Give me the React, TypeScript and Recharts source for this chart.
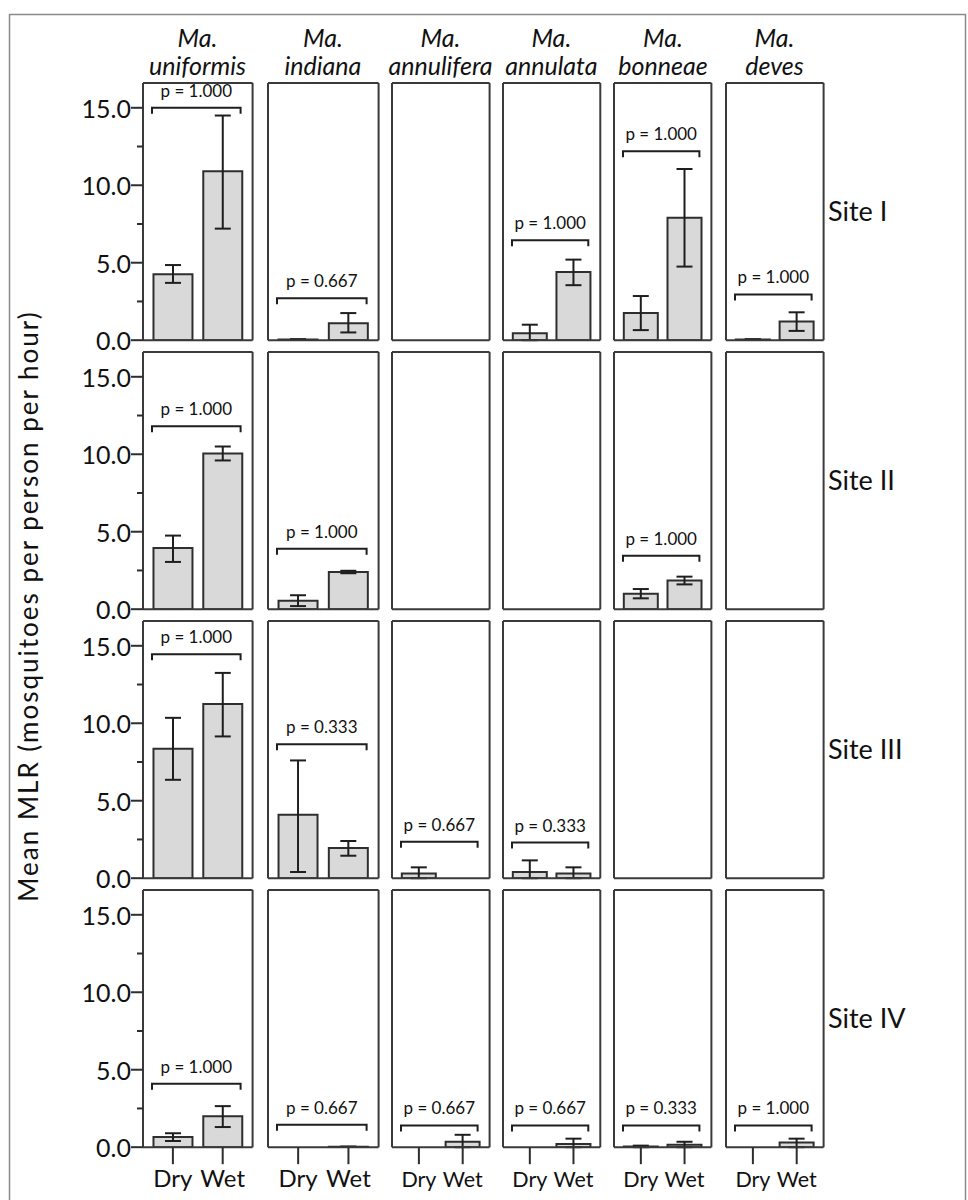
import React from 'react';
import { BarChart, Bar, XAxis, YAxis, ErrorBar, ReferenceLine } from 'recharts';

// ---------- data ----------
const speciesNames = ['uniformis', 'indiana', 'annulifera', 'annulata', 'bonneae', 'deves'];
const siteNames = ['Site I', 'Site II', 'Site III', 'Site IV'];
const seasons = ['Dry', 'Wet'];
const yTicks = [0, 2.5, 5, 7.5, 10, 12.5, 15];
const Y_MAX = 16.6;

// mean MLR [site][species]
const dryMean = [
  [4.25, 0.05, 0, 0.45, 1.75, 0.05],
  [3.95, 0.55, 0, 0, 1.0, 0],
  [8.35, 4.1, 0.3, 0.4, 0, 0],
  [0.65, 0, 0, 0, 0.05, 0],
];
const wetMean = [
  [10.9, 1.1, 0, 4.4, 7.9, 1.2],
  [10.05, 2.4, 0, 0, 1.85, 0],
  [11.25, 1.95, 0, 0.3, 0, 0],
  [2.0, 0.03, 0.35, 0.2, 0.15, 0.3],
];
// error extents [below, above]
const dryErr = [
  [[0.55, 0.6], [0, 0], [0, 0], [0.45, 0.55], [1.1, 1.1], [0, 0]],
  [[0.9, 0.8], [0.35, 0.35], [0, 0], [0, 0], [0.3, 0.3], [0, 0]],
  [[2.0, 2.0], [3.7, 3.5], [0.3, 0.4], [0.4, 0.75], [0, 0], [0, 0]],
  [[0.25, 0.25], [0, 0], [0, 0], [0, 0], [0.05, 0.05], [0, 0]],
];
const wetErr = [
  [[3.7, 3.6], [0.6, 0.65], [0, 0], [0.85, 0.8], [3.15, 3.15], [0.6, 0.6]],
  [[0.45, 0.45], [0.08, 0.08], [0, 0], [0, 0], [0.25, 0.25], [0, 0]],
  [[2.1, 2.0], [0.5, 0.45], [0, 0], [0.3, 0.4], [0, 0], [0, 0]],
  [[0.7, 0.65], [0, 0], [0.35, 0.45], [0.2, 0.35], [0.15, 0.2], [0.3, 0.25]],
];
// significance bracket heights and p-values
const bracketY = [
  [15.0, 2.7, null, 6.45, 12.2, 2.95],
  [11.8, 3.9, null, null, 3.45, null],
  [14.45, 8.65, 2.35, 2.3, null, null],
  [4.1, 1.45, 1.4, 1.4, 1.4, 1.4],
];
const pValues = [
  ['1.000', '0.667', null, '1.000', '1.000', '1.000'],
  ['1.000', '1.000', null, null, '1.000', null],
  ['1.000', '0.333', '0.667', '0.333', null, null],
  ['1.000', '0.667', '0.667', '0.667', '0.333', '1.000'],
];

// ---------- layout ----------
const FONT = "Lato, 'Open Sans', sans-serif";
const colX = [142.7, 267.7, 391.7, 502.7, 614.3, 725.7];
const colW = [109.6, 110.6, 97.6, 97.3, 97.4, 97.6];
const rowTop = [82.7, 352.0, 620.7, 890.0];
const rowH = 257.2;
const M = 22;
const YW = 66;
const XH = 50;
const INK = '#2e2e2e';
const BOX = '#3a3a3a';

const YTick = (props: any) => {
  const { x, y, payload } = props;
  const v = payload.value as number;
  const major = v % 5 === 0;
  return (
    <g>
      <line x1={x - (major ? 12 : 6)} x2={x} y1={y} y2={y} stroke={INK} strokeWidth={2} />
      {major && (
        <text x={x - 12} y={y} dy={10} textAnchor="end" fontSize={25} fontFamily={FONT} fill="#111">
          {v.toFixed(1)}
        </text>
      )}
    </g>
  );
};

const XTick = (props: any) => {
  const { x, y, payload, fs } = props;
  return (
    <g>
      <line x1={x} x2={x} y1={y} y2={y + 17} stroke={INK} strokeWidth={2} />
      <text x={x} y={y + 40} textAnchor="middle" fontSize={fs} fontFamily={FONT} fill="#111">
        {payload.value}
      </text>
    </g>
  );
};

const bracketShape = (p: string) => (props: any) => {
  const { x1, x2, y1 } = props;
  const l = Math.min(x1, x2) + 9;
  const r = Math.max(x1, x2) - 12;
  const cx = (l + r) / 2;
  return (
    <g>
      <path d={`M${l},${y1 + 6}V${y1}H${r}V${y1 + 6}`} fill="none" stroke="#1e1e1e" strokeWidth={2} />
      <text x={cx} y={y1 - 11} textAnchor="middle" fontSize={17} fontFamily={FONT} fill="#111">
        {`p = ${p}`}
      </text>
    </g>
  );
};

function Panel({ r, c }: { r: number; c: number }) {
  const data = seasons.map((s, i) => ({
    season: s,
    value: i === 0 ? dryMean[r][c] : wetMean[r][c],
    err: i === 0 ? dryErr[r][c] : wetErr[r][c],
  }));
  const first = c === 0;
  const last = r === 3;
  const leftW = first ? YW : 1;
  const bottomH = last ? XH : 1;
  const w = colW[c] + 2 * M + (first ? YW : 0);
  const h = rowH + 2 * M + (last ? XH : 0);
  const p = pValues[r][c];
  const b = bracketY[r][c];
  const axisLine = { stroke: BOX, strokeWidth: 2 };
  const margin = {
    top: M - 1,
    right: M - 1,
    bottom: M - (last ? 0 : 1),
    left: M - (first ? 0 : 1),
  };
  const xfs = c < 2 ? 24 : 21.5;
  return (
    <div style={{ position: 'absolute', left: colX[c] - M - (first ? YW : 0), top: rowTop[r] - M }}>
      <BarChart width={w} height={h} data={data} margin={margin} barCategoryGap="11%">
        <XAxis
          dataKey="season"
          padding={{ left: 5, right: 5 }}
          height={bottomH}
          axisLine={axisLine}
          tickLine={false}
          tickSize={0}
          tickMargin={0}
          tick={last ? <XTick fs={xfs} /> : false}
          interval={0}
        />
        <XAxis
          xAxisId="top"
          dataKey="season"
          orientation="top"
          height={1}
          axisLine={axisLine}
          tickLine={false}
          tick={false}
        />
        <YAxis
          type="number"
          domain={[0, Y_MAX]}
          allowDataOverflow
          ticks={yTicks}
          width={leftW}
          axisLine={axisLine}
          tickLine={false}
          tickSize={0}
          tickMargin={0}
          tick={first ? <YTick /> : false}
          interval={0}
        />
        <YAxis
          yAxisId="right"
          type="number"
          orientation="right"
          domain={[0, Y_MAX]}
          allowDataOverflow
          width={1}
          axisLine={axisLine}
          tickLine={false}
          tick={false}
        />
        <Bar dataKey="value" fill="#d9d9d9" stroke={INK} strokeWidth={2} isAnimationActive={false}>
          <ErrorBar dataKey="err" width={8} stroke="#1e1e1e" strokeWidth={2} isAnimationActive={false} />
        </Bar>
        {p !== null && b !== null && <ReferenceLine y={b} shape={bracketShape(p)} />}
      </BarChart>
    </div>
  );
}

export default function App() {
  const rowsBottomFirst = [3, 2, 1, 0];
  return (
    <div style={{ position: 'absolute', left: 0, top: 0, width: 968, height: 1200, background: '#fff', overflow: 'hidden' }}>
      <svg width={968} height={1200} style={{ position: 'absolute', left: 0, top: 0 }}>
        <rect x={9.5} y={14.5} width={956} height={1190} fill="none" stroke="#8a8a8a" strokeWidth={1.5} />
        {speciesNames.map((s, c) => {
          const cx = colX[c] + colW[c] / 2;
          return (
            <g key={s} fontFamily={FONT} fontStyle="italic" fontSize={25} fill="#111" textAnchor="middle">
              <text x={cx} y={46.7}>Ma.</text>
              <text x={cx} y={75}>{s}</text>
            </g>
          );
        })}
        {siteNames.map((s, r) => (
          <text key={s} x={828} y={rowTop[r] + 138} fontFamily={FONT} fontSize={27} fill="#111">
            {s}
          </text>
        ))}
        <text
          x={0}
          y={0}
          transform="translate(38,606) rotate(-90)"
          textAnchor="middle"
          fontFamily={FONT}
          fontSize={26}
          letterSpacing={2}
          fill="#111"
        >
          Mean MLR (mosquitoes per person per hour)
        </text>
      </svg>
      {rowsBottomFirst.map((r) => speciesNames.map((__, c) => <Panel key={`${r}-${c}`} r={r} c={c} />))}
    </div>
  );
}
